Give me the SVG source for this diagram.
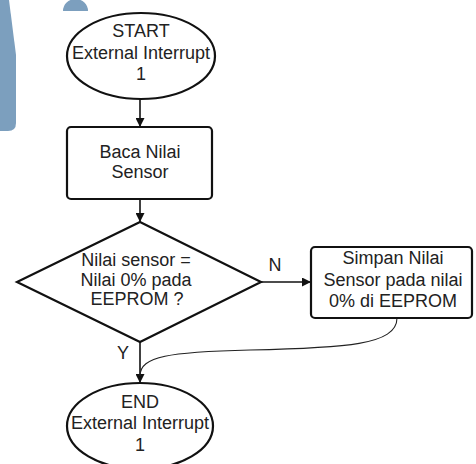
<svg xmlns="http://www.w3.org/2000/svg" width="476" height="464" viewBox="0 0 476 464">
<defs>
<style>
.shape{fill:#fff;stroke:#111;stroke-width:2.2}
.txt{font-family:"Liberation Sans",Arial,sans-serif;font-size:18px;fill:#222;text-anchor:middle}
.conn{fill:none;stroke:#111;stroke-width:1.6}
.thin{fill:none;stroke:#222;stroke-width:1.1}
.wm{fill:#7c9fbe}
</style>
<marker id="ah" viewBox="0 0 10 10" refX="10" refY="5" markerWidth="9" markerHeight="9" markerUnits="userSpaceOnUse" orient="auto">
<path d="M0,0 L10,5 L0,10 Z" fill="#111"/>
</marker>
</defs>
<rect width="476" height="464" fill="#fff"/>
<g id="watermark">
<path class="wm" d="M0,0 L9,0 L16,55 L16,123 Q16,131 8,131 L0,131 Z"/>
<path class="wm" d="M63,11 A12.5,12 0 0 1 88,11 Z"/>
</g>
<g id="connectors">
<line class="conn" x1="140" y1="99" x2="140" y2="127" marker-end="url(#ah)"/>
<line class="conn" x1="140" y1="199" x2="140" y2="222" marker-end="url(#ah)"/>
<line class="conn" x1="261" y1="282" x2="311" y2="282" marker-end="url(#ah)"/>
<line class="conn" x1="140" y1="342" x2="140" y2="383" marker-end="url(#ah)"/>
<path class="thin" d="M397,318 C397,345 345,348 250,350 C170,352 140,356 140,376"/>
<text class="txt" x="275" y="271">N</text>
<text class="txt" x="123" y="359">Y</text>
</g>
<g id="start">
<ellipse class="shape" cx="141" cy="56" rx="74" ry="43"/>
<text class="txt" x="141" y="37">START</text>
<text class="txt" x="141" y="59">External Interrupt</text>
<text class="txt" x="141" y="80">1</text>
</g>
<g id="baca">
<rect class="shape" x="67" y="127" width="145" height="72" rx="4"/>
<text class="txt" x="140" y="158">Baca Nilai</text>
<text class="txt" x="140" y="178">Sensor</text>
</g>
<g id="decision">
<polygon class="shape" points="140,222 261,282 140,342 17,282"/>
<text class="txt" x="136" y="266">Nilai sensor =</text>
<text class="txt" x="136" y="286">Nilai 0% pada</text>
<text class="txt" x="137" y="305">EEPROM ?</text>
</g>
<g id="simpan">
<rect class="shape" x="311" y="247" width="161" height="71" rx="4"/>
<text class="txt" x="393" y="264">Simpan Nilai</text>
<text class="txt" x="393" y="286">Sensor pada nilai</text>
<text class="txt" x="393" y="307">0% di EEPROM</text>
</g>
<g id="end">
<ellipse class="shape" cx="140" cy="426" rx="73" ry="43"/>
<text class="txt" x="140" y="408">END</text>
<text class="txt" x="140" y="429">External Interrupt</text>
<text class="txt" x="140" y="451">1</text>
</g>
</svg>
